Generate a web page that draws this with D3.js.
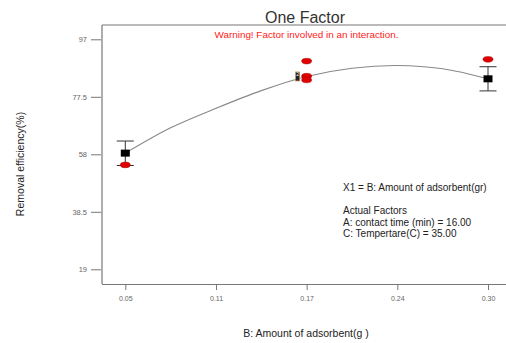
<!DOCTYPE html>
<html><head><meta charset="utf-8">
<script src="https://cdn.jsdelivr.net/npm/d3@7"></script>
<style>body{margin:0;background:#fff}svg{display:block;font-family:"Liberation Sans",Arial,sans-serif}</style>
</head><body><svg id="c" width="506" height="343"></svg>
<script>
// data
const xTicks = [0.05, 0.1125, 0.175, 0.2375, 0.30];
const xTickLabels = ["0.05", "0.11", "0.17", "0.24", "0.30"];
const yTicks = [19, 38.5, 58, 77.5, 97];
const yTickLabels = ["19", "38.5", "58", "77.5", "97"];
const curveX = [0.05, 0.08125, 0.1125, 0.14375, 0.175, 0.20625, 0.2375, 0.26875, 0.30];
const curveY = [58.4, 67.0, 73.6, 79.6, 84.4, 87.2, 88.1, 87.0, 83.6];
const meanX = [0.05, 0.30];
const meanY = [58.4, 83.6];
const errLow = [54.2, 79.5];
const errHigh = [62.5, 87.7];
const obsX = [0.05, 0.175, 0.175, 0.175, 0.30];
const obsY = [54.4, 89.6, 84.5, 83.2, 90.2];
const centerX = [0.175];
const centerY = [84.4];

const svg = d3.select("#c");
const x = d3.scaleLinear().domain([0.05, 0.30]).range([125.3, 488]);
const y = d3.scaleLinear().domain([19, 97]).range([269.3, 39.3]);
const L = 102, T = 25, B = 284;

// frame
svg.append("line").attr("x1", L).attr("x2", 506).attr("y1", T).attr("y2", T).attr("stroke", "#777").attr("stroke-width", 1.2);
svg.append("line").attr("x1", L).attr("x2", L).attr("y1", T).attr("y2", B).attr("stroke", "#777").attr("stroke-width", 1.2);

// y axis
const ya = svg.append("g").attr("transform", `translate(${L - 1},0)`)
  .call(d3.axisLeft(y).tickValues(yTicks).tickSize(10).tickPadding(4).tickFormat((d, i) => yTickLabels[i]));
ya.select(".domain").remove();
ya.selectAll(".tick line").attr("stroke", "#777");
ya.selectAll(".tick text").attr("fill", "#666").style("font-size", "7.5px").style("font-family", "Liberation Sans, Arial");

// x axis
const xa = svg.append("g").attr("transform", `translate(0,${B})`)
  .call(d3.axisBottom(x).tickValues(xTicks).tickSize(6).tickPadding(6).tickFormat((d, i) => xTickLabels[i]));
xa.select(".domain").attr("d", `M${L},0.5H506`).attr("stroke", "#777").attr("stroke-width", 1.2);
xa.selectAll(".tick line").attr("stroke", "#777");
xa.selectAll(".tick text").attr("fill", "#666").style("font-size", "7px").style("font-family", "Liberation Sans, Arial");

// curve
const pts = curveX.map((v, i) => [x(v), y(curveY[i])]);
svg.append("path").attr("d", d3.line().curve(d3.curveCatmullRom)(pts))
  .attr("fill", "none").attr("stroke", "#888").attr("stroke-width", 1.1);

// error bars
meanX.forEach((v, i) => {
  const cx = x(v), hw = 8.5;
  const g = svg.append("g").attr("stroke", "#333").attr("stroke-width", 1);
  g.append("line").attr("x1", cx).attr("x2", cx).attr("y1", y(errHigh[i])).attr("y2", y(errLow[i]));
  g.append("line").attr("x1", cx - hw).attr("x2", cx + hw).attr("y1", y(errHigh[i])).attr("y2", y(errHigh[i]));
  g.append("line").attr("x1", cx - hw).attr("x2", cx + hw).attr("y1", y(errLow[i])).attr("y2", y(errLow[i]));
});

// observed points
svg.selectAll("ellipse.obs").data(obsX).join("ellipse").attr("class", "obs")
  .attr("cx", d => x(d)).attr("cy", (d, i) => y(obsY[i]))
  .attr("rx", 5).attr("ry", 2.8).attr("fill", "#e00000").attr("stroke", "#a00000").attr("stroke-width", 0.5);

// mean squares
svg.selectAll("rect.mean").data(meanX).join("rect").attr("class", "mean")
  .attr("x", d => x(d) - 4.5).attr("y", (d, i) => y(meanY[i]) - 3.5)
  .attr("width", 9).attr("height", 7).attr("fill", "#000");

// center point (with replicate marker)
centerX.forEach((v, i) => {
  const cx = x(v) - 9, cy = y(centerY[i]);
  svg.append("rect").attr("x", cx - 2).attr("y", cy - 4.5).attr("width", 4).attr("height", 9)
    .attr("fill", "#223").attr("stroke", "#c98a3a").attr("stroke-width", 0.6);
  svg.append("text").attr("x", cx).attr("y", cy - 0.5).attr("text-anchor", "middle")
    .style("font-size", "5px").attr("fill", "#fff").text("2");
});

// titles
svg.append("text").attr("x", 305).attr("y", 22.5).attr("text-anchor", "middle")
  .style("font-size", "16px").attr("fill", "#333").text("One Factor");
svg.append("text").attr("x", 306.5).attr("y", 37.5).attr("text-anchor", "middle")
  .style("font-size", "9.9px").attr("fill", "#ff2020").text("Warning! Factor involved in an interaction.");
svg.append("text").attr("transform", "translate(24,164) rotate(-90)").attr("text-anchor", "middle")
  .style("font-size", "10.5px").attr("fill", "#222").text("Removal efficiency(%)");
svg.append("text").attr("x", 306).attr("y", 337).attr("text-anchor", "middle")
  .style("font-size", "10.5px").attr("fill", "#222").text("B: Amount of adsorbent(g )");

// annotation
const ann = [["X1 = B: Amount of adsorbent(gr)", 190.5], ["Actual Factors", 214], ["A: contact time (min) = 16.00", 225.5], ["C: Tempertare(C) = 35.00", 237]];
ann.forEach(a => svg.append("text").attr("x", 343).attr("y", a[1]).style("font-size", "10px")
  .attr("fill", "#222").text(a[0]));
</script></body></html>
